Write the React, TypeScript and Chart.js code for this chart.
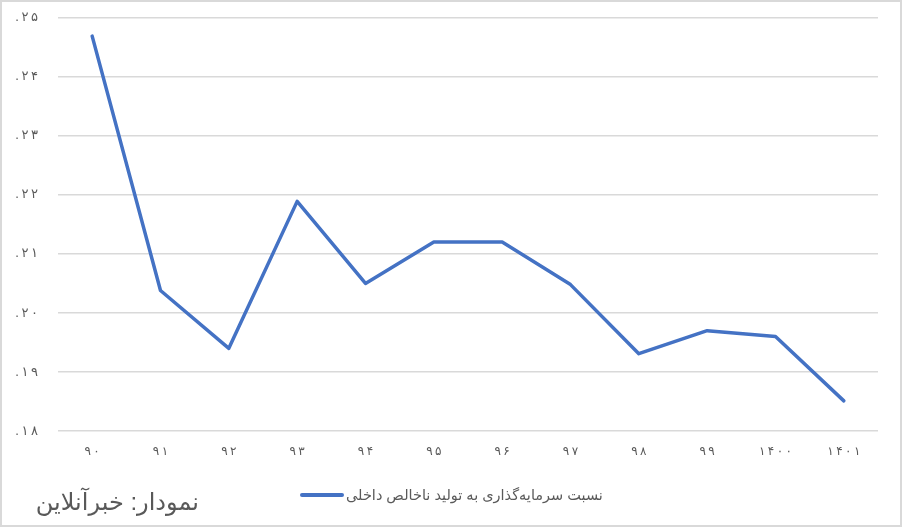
import React, { useEffect, useRef } from "react";
import { Chart, registerables } from "chart.js";

Chart.register(...registerables);

const categories = ["۹۰", "۹۱", "۹۲", "۹۳", "۹۴", "۹۵", "۹۶", "۹۷", "۹۸", "۹۹", "۱۴۰۰", "۱۴۰۱"];
const investmentRatio = [0.2469, 0.2038, 0.194, 0.2189, 0.205, 0.212, 0.212, 0.2048, 0.1931, 0.197, 0.196, 0.1851];
const seriesLabel = "نسبت سرمایه‌گذاری به تولید ناخالص داخلی";
const sourceNote = "نمودار: خبرآنلاین";
const yMin = 0.18;
const yMax = 0.25;
const yStep = 0.01;

const faDigits = "۰۱۲۳۴۵۶۷۸۹";
const SP = "\u2009";
function toFa(s: string) {
  return s.replace(/[0-9]/g, (d) => faDigits[Number(d)]);
}
function spaced(s: string) {
  return Array.from(s).join(SP);
}
function yLabel(v: number) {
  const n = Math.round(v * 100);
  return "." + SP + spaced(toFa(String(n)));
}

const FONT = "'Liberation Sans', 'DejaVu Sans', sans-serif";
const TEXT = "#595959";
const GRID = "#d9d9d9";
const BLUE = "#4472C4";

export default function App() {
  const ref = useRef<HTMLCanvasElement | null>(null);
  useEffect(() => {
    if (!ref.current) return;
    const chart = new Chart(ref.current, {
      type: "line",
      data: {
        labels: categories,
        datasets: [
          {
            label: seriesLabel,
            data: investmentRatio,
            borderColor: BLUE,
            backgroundColor: BLUE,
            borderWidth: 3.5,
            pointRadius: 0,
            tension: 0,
            borderCapStyle: "round",
            borderJoinStyle: "round",
          },
        ],
      },
      options: {
        animation: false,
        responsive: false,
        maintainAspectRatio: false,
        layout: { padding: { left: 0, top: 11, right: 24, bottom: 0 } },
        plugins: { legend: { display: false }, tooltip: { enabled: false } },
        scales: {
          x: {
            offset: true,
            grid: { display: false, drawTicks: false, offset: true },
            border: { display: false },
            ticks: {
              color: TEXT,
              font: { family: FONT, size: 12 },
              padding: 13,
              maxRotation: 0,
              callback: (_v: any, i: number) => spaced(categories[i]),
            },
            afterFit: (s: any) => {
              s.height = 96;
            },
          },
          y: {
            min: yMin,
            max: yMax,
            grid: { color: GRID, lineWidth: 1.5, drawTicks: false },
            border: { display: false },
            ticks: {
              stepSize: yStep,
              color: TEXT,
              font: { family: FONT, size: 13 },
              padding: 20,
              callback: (v: any) => yLabel(Number(v)),
            },
            afterFit: (s: any) => {
              s.width = 58;
            },
          },
        },
      },
    });
    return () => chart.destroy();
  }, []);

  return (
    <div
      style={{
        position: "absolute",
        left: 0,
        top: 0,
        width: 902,
        height: 527,
        background: "#fff",
        boxSizing: "border-box",
        border: `2px solid ${GRID}`,
        fontFamily: FONT,
        overflow: "hidden",
      }}
    >
      <canvas ref={ref} width={902} height={537} style={{ position: "absolute", left: -2, top: -12 }} />
      <div
        style={{
          position: "absolute",
          left: 298,
          top: 483,
          height: 20,
          display: "flex",
          alignItems: "center",
          gap: 2,
          fontSize: 14.5,
          color: TEXT,
          whiteSpace: "nowrap",
        }}
      >
        <span style={{ display: "inline-block", width: 44, height: 4, background: BLUE, borderRadius: 2 }} />
        <span dir="rtl">{seriesLabel}</span>
      </div>
      <div
        dir="rtl"
        style={{
          position: "absolute",
          right: 902 - 201,
          top: 485,
          fontSize: 24,
          lineHeight: "30px",
          color: TEXT,
          whiteSpace: "nowrap",
        }}
      >
        {sourceNote}
      </div>
    </div>
  );
}
